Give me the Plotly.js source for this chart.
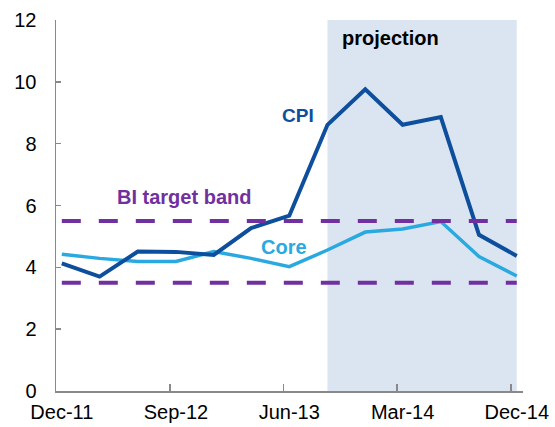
<!DOCTYPE html>
<html>
<head>
<meta charset="utf-8">
<script src="https://cdn.plot.ly/plotly-3.0.1.min.js"></script>
<style>html,body{margin:0;padding:0;background:#fff;}#chart{width:555px;height:427px;}</style>
</head>
<body>
<div id="chart"></div>
<script>
// Quarterly observations (plotted mid-month of the quarter-end month)
var quarters = ["2011-12-15","2012-03-15","2012-06-15","2012-09-15","2012-12-15","2013-03-15","2013-06-15",
                "2013-09-15","2013-12-15","2014-03-15","2014-06-15","2014-09-15","2014-12-15"];
var cpi  = [4.13, 3.70, 4.51, 4.50, 4.40, 5.27, 5.67, 8.61, 9.76, 8.61, 8.86, 5.05, 4.37];
var core = [4.42, 4.29, 4.19, 4.19, 4.51, 4.29, 4.02, 4.56, 5.14, 5.24, 5.48, 4.35, 3.72];
var bandUpper = [5.5, 5.5];
var bandLower = [3.5, 3.5];
var bandX = ["2011-12-15", "2014-12-15"];
var projStart = "2013-09-15", projEnd = "2014-12-15";
var tickLabelDates = ["2011-12-15","2012-09-15","2013-06-15","2014-03-15","2014-12-15"];
var tickMarkDates  = ["2011-12-01","2012-09-01","2013-06-01","2014-03-01","2014-12-01"];
var tickLabels = ["Dec-11","Sep-12","Jun-13","Mar-14","Dec-14"];
var xRange = ["2011-12-01","2014-12-30"];

var purple = "#7030a0", dark = "#0d4f9c", light = "#2aa9e0";
var font = "Liberation Sans, Arial, sans-serif";

var traces = [
  {x: bandX, y: bandUpper, xaxis: "x2", mode: "lines", line: {color: purple, width: 4, dash: "19px,18px"}, hoverinfo: "skip"},
  {x: bandX, y: bandLower, xaxis: "x2", mode: "lines", line: {color: purple, width: 4, dash: "19px,18px"}, hoverinfo: "skip"},
  {x: quarters, y: core, mode: "lines", line: {color: light, width: 3.5}, name: "Core"},
  {x: quarters, y: cpi, mode: "lines", line: {color: dark, width: 4}, name: "CPI"}
];

function ann(px, py, txt, size, color) {
  return {xref: "paper", yref: "paper", x: (px-56)/467, y: (391-py)/371, xanchor: "center", yanchor: "middle",
          text: "<b>" + txt + "</b>", showarrow: false, font: {size: size, color: color, family: font}};
}

var layout = {
  width: 555, height: 427,
  margin: {l: 56, r: 32, t: 20, b: 36},
  paper_bgcolor: "#fff", plot_bgcolor: "rgba(0,0,0,0)",
  showlegend: false,
  font: {family: font, size: 20, color: "#000"},
  xaxis: {
    type: "date", range: xRange, tickmode: "array", tickvals: tickLabelDates, ticktext: tickLabels,
    ticks: "", showgrid: false, zeroline: false, showline: true, linecolor: "#898989", linewidth: 1.5,
    tickfont: {size: 20, family: font, color: "#000"}, ticklabelstandoff: 2, fixedrange: true
  },
  xaxis2: {
    type: "date", range: xRange, overlaying: "x", anchor: "y", tickmode: "array", tickvals: tickMarkDates,
    showticklabels: false, ticks: "inside", ticklen: 7, tickwidth: 1.5, tickcolor: "#898989",
    showgrid: false, zeroline: false, showline: false
  },
  yaxis: {
    range: [0, 12], tickvals: [0,2,4,6,8,10,12], ticks: "inside", ticklen: 5, tickwidth: 1.5, tickcolor: "#898989",
    showgrid: false, zeroline: false, showline: true, linecolor: "#898989", linewidth: 1.5,
    tickfont: {size: 20, family: font, color: "#000"}, ticklabelstandoff: 14, fixedrange: true
  },
  shapes: [
    {type: "rect", xref: "x", yref: "y", x0: projStart, x1: projEnd, y0: 0, y1: 12, fillcolor: "#dbe5f1", line: {width: 0}, layer: "below"}
  ],
  annotations: [
    ann(390, 38, "projection", 20, "#000"),
    ann(298, 115, "CPI", 19, dark),
    ann(184, 197, "BI target band", 20, purple),
    ann(284, 247, "Core", 20, light)
  ]
};

Plotly.newPlot("chart", traces, layout, {displayModeBar: false, staticPlot: true});
</script>
</body>
</html>
